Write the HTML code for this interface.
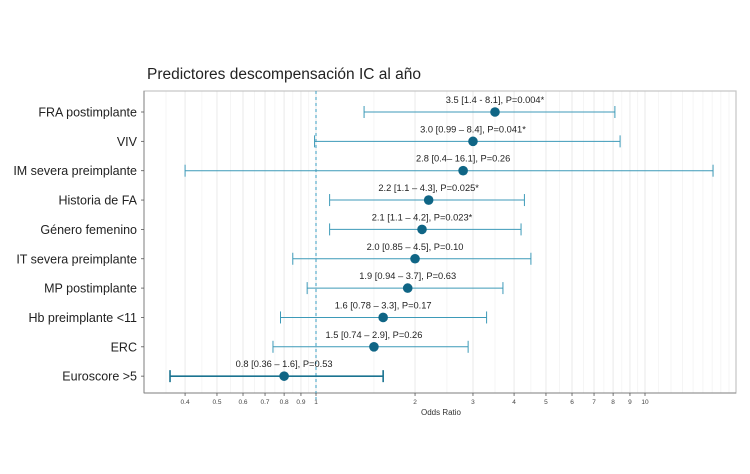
<!DOCTYPE html>
<html><head><meta charset="utf-8"><style>
body{margin:0;background:#fff;}
svg text{font-family:"Liberation Sans",sans-serif;}
</style></head><body>
<svg id="chart" width="750" height="469" viewBox="0 0 750 469" xmlns="http://www.w3.org/2000/svg">
<text x="147" y="79" font-size="15.5" fill="#222">Predictores descompensación IC al año</text>
<g id="grid"></g>
<rect x="144" y="91" width="592" height="302" fill="none" stroke="#c4c4c4" stroke-width="1.2"/>
<line x1="144" y1="91" x2="144" y2="393" stroke="#888" stroke-width="1"/>
<line x1="144" y1="393" x2="736" y2="393" stroke="#888" stroke-width="1"/>
<g id="marks"></g>
<text x="441" y="415" font-size="8" text-anchor="middle" fill="#333">Odds Ratio</text>
</svg>
<script>
const categories=["FRA postimplante","VIV","IM severa preimplante","Historia de FA","Género femenino","IT severa preimplante","MP postimplante","Hb preimplante <11","ERC","Euroscore >5"];
const orValues=[3.5,3.0,2.8,2.2,2.1,2.0,1.9,1.6,1.5,0.8];
const ciLow=[1.4,0.99,0.4,1.1,1.1,0.85,0.94,0.78,0.74,0.36];
const ciHigh=[8.1,8.4,16.1,4.3,4.2,4.5,3.7,3.3,2.9,1.6];
const labels=["3.5 [1.4 - 8.1], P=0.004*","3.0 [0.99 – 8.4], P=0.041*","2.8 [0.4– 16.1], P=0.26","2.2 [1.1 – 4.3], P=0.025*","2.1 [1.1 – 4.2], P=0.023*","2.0 [0.85 – 4.5], P=0.10","1.9 [0.94 – 3.7], P=0.63","1.6 [0.78 – 3.3], P=0.17","1.5 [0.74 – 2.9], P=0.26","0.8 [0.36 – 1.6], P=0.53"];
const tickValues=[0.4,0.5,0.6,0.7,0.8,0.9,1,2,3,4,5,6,7,8,9,10];
const tickLabels=["0.4","0.5","0.6","0.7","0.8","0.9","1","2","3","4","5","6","7","8","9","10"];
const NS="http://www.w3.org/2000/svg";
const svg=document.getElementById('chart');
const grid=document.getElementById('grid');
const marks=document.getElementById('marks');
function xs(v){return 316+Math.log10(v)*329;}
function ys(i){return 112+i*29.35;}
function mk(tag,attrs,parent){const e=document.createElementNS(NS,tag);for(const k in attrs)e.setAttribute(k,attrs[k]);parent.appendChild(e);return e;}
for(let v=0.35;v<=20;v+= (v<1?0.05:(v<10?0.5:1))){const x=xs(v);if(x<145||x>735)continue;
 const l=mk('line',{x1:x,x2:x,y1:91,y2:393,stroke:'#f3f3f3','stroke-width':0.8},grid);
 
 }
tickValues.forEach((v,i)=>{const x=xs(v);
 const g=mk('line',{x1:x,x2:x,y1:91,y2:393,stroke:'#e8e8e8','stroke-width':0.9},grid);
 
 
 const t=mk('line',{x1:x,x2:x,y1:393,y2:396,stroke:'#555','stroke-width':0.8},svg);
 
 
 const tx=mk('text',{x:x,y:404,'font-size':6.5,'text-anchor':'middle',fill:'#444'},svg);
 tx.textContent=tickLabels[i];
 
 
});
const ref=mk('line',{x1:xs(1),x2:xs(1),y1:91,y2:400,stroke:'#3a9cc0','stroke-width':1,'stroke-dasharray':'3,3'},marks);


categories.forEach((c,i)=>{const y=ys(i);const last=i===categories.length-1;
 const col=last?'#1a7390':'#3d9ab8';const sw=last?1.6:1;
 const yl=mk('text',{x:137,y:y+4.5,'font-size':12.5,'text-anchor':'end',fill:'#222'},svg);
 yl.textContent=c;
 
 
 const yt=mk('line',{x1:141,x2:144,y1:y,y2:y,stroke:'#555','stroke-width':0.8},svg);
 
 
 const l=mk('line',{x1:xs(ciLow[i]),x2:xs(ciHigh[i]),y1:y,y2:y,stroke:col,'stroke-width':sw},marks);
 
 
 [ciLow[i],ciHigh[i]].forEach(v=>{const cap=mk('line',{x1:xs(v),x2:xs(v),y1:y-6,y2:y+6,stroke:col,'stroke-width':sw},marks);
  
  });
 const p=mk('circle',{cx:xs(orValues[i]),cy:y,r:4.8,fill:'#0f6585'},marks);
 
 
 const lb=mk('text',{x:xs(orValues[i]),y:y-9,'font-size':9.3,'text-anchor':'middle',fill:'#222'},marks);
 lb.textContent=labels[i];
 
 
});
</script>
</body></html>
